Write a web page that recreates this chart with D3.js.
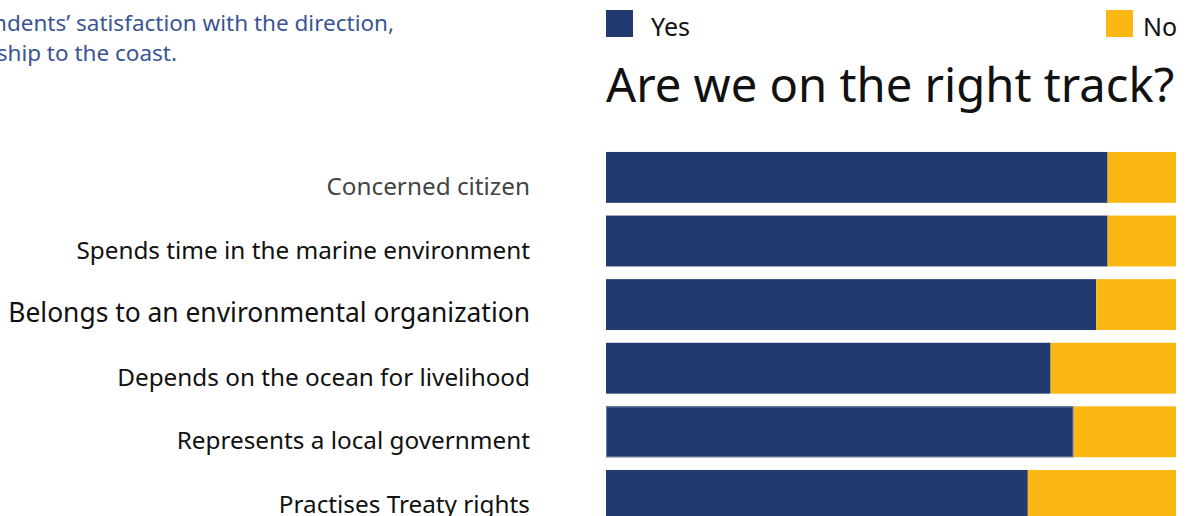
<!DOCTYPE html>
<html>
<head>
<meta charset="utf-8">
<script src="https://cdn.jsdelivr.net/npm/d3@7"></script>
<style>
  html, body { margin: 0; padding: 0; background: #fff; overflow: hidden; }
  svg { display: block; font-family: "Noto Sans", sans-serif; }
</style>
</head>
<body>
<svg id="chart" width="1194" height="516"></svg>
<script>
// Survey groups, top to bottom
const categories = [
  "Concerned citizen",
  "Spends time in the marine environment",
  "Belongs to an environmental organization",
  "Depends on the ocean for livelihood",
  "Represents a local government",
  "Practises Treaty rights"
];
// Share of respondents answering "Yes" (percent)
const yesValues = [88, 88, 86, 78, 82, 74];
// Share answering "No" (percent)
const noValues = [12, 12, 14, 22, 18, 26];
const seriesNames = ["Yes", "No"];
const seriesColors = ["#223a70", "#fbb814"];
const titleText = "Are we on the right track?";
const introLines = [
  "This chart shows respondents’ satisfaction with the direction,",
  "grouped by their relationship to the coast."
];

const svg = d3.select("#chart");

const rows = categories.map((c, i) => ({ category: c, Yes: yesValues[i], No: noValues[i] }));
const stacked = d3.stack().keys(seriesNames)(rows);

const x = d3.scaleLinear().domain([0, 100]).range([606, 1176]);
const y = d3.scaleBand()
  .domain(categories)
  .range([145.6, 145.6 + 63.6 * 6])
  .paddingInner(0.2)
  .paddingOuter(0.1);
const color = d3.scaleOrdinal().domain(seriesNames).range(seriesColors);

// Intro text, right edges aligned with the visible column
svg.append("g")
  .selectAll("text")
  .data(introLines)
  .join("text")
  .attr("x", (d, i) => i === 0 ? 394 : 177)
  .attr("y", (d, i) => 31 + i * 30)
  .attr("text-anchor", "end")
  .attr("font-size", 22.5)
  .attr("fill", "#3b5592")
  .text(d => d);

// Legend
const legend = svg.append("g")
  .selectAll("g")
  .data(seriesNames)
  .join("g")
  .attr("transform", (d, i) => `translate(${i === 0 ? 606 : 1106},10)`);
legend.append("rect")
  .attr("width", 27).attr("height", 27)
  .attr("fill", d => color(d));
legend.append("text")
  .attr("x", (d, i) => i === 0 ? 45 : 37)
  .attr("y", 26)
  .attr("font-size", 25)
  .attr("fill", "#111")
  .text(d => d);

// Title
svg.append("text")
  .attr("x", 606).attr("y", 102)
  .attr("font-size", 47.2)
  .attr("fill", "#111")
  .text(titleText);

// Stacked bars
svg.append("g")
  .selectAll("g")
  .data(stacked)
  .join("g")
  .attr("fill", d => color(d.key))
  .selectAll("rect")
  .data(d => d)
  .join("rect")
  .attr("x", d => x(d[0]))
  .attr("y", d => y(d.data.category))
  .attr("width", d => x(d[1]) - x(d[0]))
  .attr("height", y.bandwidth());

// Highlight outline on the local-government "Yes" segment
const hl = categories[4];
svg.append("rect")
  .attr("x", x(0) + 0.5)
  .attr("y", y(hl) + 0.5)
  .attr("width", x(yesValues[4]) - x(0) - 1)
  .attr("height", y.bandwidth() - 1)
  .attr("fill", "none")
  .attr("stroke", "#6a7ca6")
  .attr("stroke-width", 1);

// Category labels
const yAxis = svg.append("g")
  .attr("transform", "translate(530,0)")
  .call(d3.axisLeft(y).tickSize(0).tickPadding(0));
yAxis.select(".domain").remove();
yAxis.selectAll("text")
  .attr("font-family", "Noto Sans, sans-serif")
  .attr("font-size", (d, i) => i === 2 ? 26.4 : 24.3)
  .attr("fill", (d, i) => i === 0 ? "#444" : "#111")
  .attr("dy", 0)
  .attr("transform", "translate(0,17.5)");
</script>
</body>
</html>
